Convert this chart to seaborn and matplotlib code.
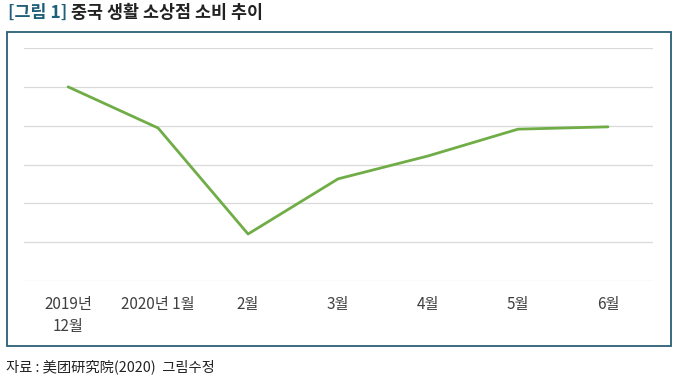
import pandas as pd
import seaborn as sns
import matplotlib.pyplot as plt
from matplotlib.patches import Rectangle

# Data (no y scale shown, values in grid units)
months = ['2019년\n12월', '2020년 1월', '2월', '3월', '4월', '5월', '6월']
consumption = [50.0, 39.4, 12.1, 26.3, 32.2, 39.1, 39.7]

df = pd.DataFrame({'pos': range(len(months)), 'value': consumption})

sns.set_style('white')
plt.rcParams['font.family'] = ['Noto Sans CJK KR', 'DejaVu Sans']

W, H = 679, 384
fig = plt.figure(figsize=(W / 100, H / 100), dpi=100)
ax = fig.add_axes([24 / W, 1 - 281 / H, (653 - 24) / W, (281 - 48) / H])

sns.lineplot(data=df, x='pos', y='value', ax=ax, color='#70AD47', linewidth=2.0)

ax.set_xlim(-0.49, 6.5)
ax.set_ylim(0, 60)
ax.set_yticks(range(0, 61, 10))
ax.set_yticklabels([])
ax.grid(axis='y', color='#d9d9d9', linewidth=0.9)
ax.set_axisbelow(True)
ax.set_xticks(range(len(months)))
ax.set_xticklabels(months, fontsize=11, color='#404040', linespacing=1.35)
ax.tick_params(axis='both', length=0, pad=11)
ax.set_xlabel('')
ax.set_ylabel('')
for s in ax.spines.values():
    s.set_visible(False)

# frame around the chart
fig.patches.append(Rectangle((7 / W, 1 - 346 / H), (671 - 7) / W, (346 - 32) / H,
                             transform=fig.transFigure, fill=False,
                             edgecolor='#2b5f75', linewidth=1.3))

# title and source
fig.text(8 / W, 1 - 13 / H, '[그림 1]', fontsize=12.5, fontweight='bold',
         color='#1f5f7a', va='center', ha='left')
fig.text(71 / W, 1 - 13 / H, '중국 생활 소상점 소비 추이', fontsize=12.5,
         fontweight='bold', color='#222222', va='center', ha='left')
fig.text(6 / W, 1 - 367 / H, '자료 : 美团研究院(2020)  그림수정', fontsize=10.3,
         color='#222222', va='center', ha='left')

fig.savefig('out.png', dpi=100)
